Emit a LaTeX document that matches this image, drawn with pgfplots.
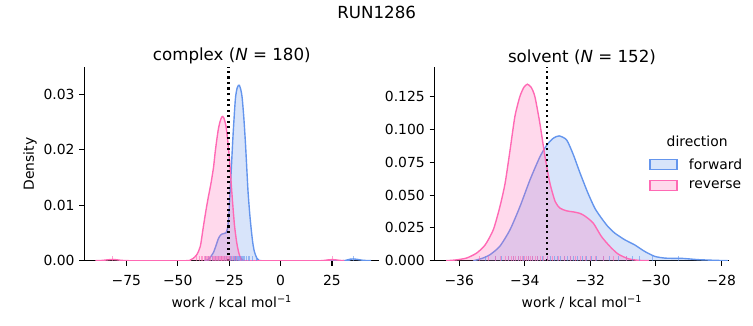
\documentclass[border=0pt]{standalone}
\usepackage{pgfplots}
\usepackage{pgfplotstable}
\pgfplotsset{compat=1.18}
\usepackage{fontspec}
\setmainfont{DejaVu Sans}
\definecolor{fwd}{HTML}{6495ED}
\definecolor{rev}{HTML}{FF69B4}
\pgfdeclareplotmark{rug}{\pgfpathmoveto{\pgfpointorigin}\pgfpathlineto{\pgfqpoint{0pt}{3.5pt}}\pgfusepathqstroke}

\pgfplotstableread{
x y
-90 0
-87.5 0.00003
-85 0.00012
-82.5 0.00022
-81.5 0.00023
-80 0.00018
-77.5 0.00007
-75 0.00001
-72 0
-46 0
-44 0.0001
-42.5 0.0004
-40.7 0.0011
-39 0.0026
-37.5 0.0062
-36.2 0.0092
-35.1 0.0115
-33.8 0.014
-32.6 0.0168
-31.8 0.0195
-31.0 0.0218
-30.2 0.0238
-29.4 0.0251
-28.6 0.0259
-28.1 0.026
-27.5 0.0257
-26.5 0.0242
-25.6 0.0214
-24.8 0.0182
-23.7 0.0124
-22.4 0.0064
-21.1 0.0028
-19.8 0.0008
-18.4 0.0001
-17 0
19 0
21 0.00004
23 0.00014
25.2 0.0002
27.5 0.00012
29.5 0.00003
31 0
}\complexrev

\pgfplotstableread{
x y
-37 0
-35.1 0.0002
-33.8 0.0008
-32.6 0.0015
-31.4 0.0027
-30.2 0.004
-29.2 0.0046
-28.5 0.0048
-27.5 0.0049
-26.6 0.005
-25.8 0.0058
-25.2 0.0078
-24.8 0.0106
-24.1 0.0154
-23.1 0.0226
-22.0 0.029
-21.2 0.031
-20.5 0.0316
-20.0 0.0316
-19.3 0.0308
-18.7 0.0295
-17.9 0.026
-17.1 0.0214
-16.4 0.0165
-15.8 0.0124
-15.0 0.0085
-14.3 0.0058
-13.5 0.0032
-12.7 0.0016
-11.6 0.0005
-10.6 0.0001
-9 0
30 0
32 0.0001
34 0.00028
35.5 0.00032
37.5 0.00022
40 0.00008
42.5 0.00002
44 0
}\complexfwd

\pgfplotstableread{
x y
-36.4 0
-36.1 0.0006
-35.78 0.002
-35.47 0.0058
-35.21 0.012
-34.96 0.0236
-34.76 0.041
-34.6 0.059
-34.45 0.084
-34.3 0.11
-34.15 0.125
-34.03 0.132
-33.92 0.1345
-33.8 0.132
-33.69 0.125
-33.54 0.105
-33.38 0.079
-33.23 0.059
-33.07 0.045
-32.92 0.040
-32.72 0.038
-32.47 0.037
-32.31 0.036
-32.16 0.034
-31.91 0.0287
-31.66 0.0185
-31.4 0.0109
-31.15 0.0051
-30.84 0.0015
-30.54 0.0003
-30.2 0
}\solventrev

\pgfplotstableread{
x y
-35.57 0
-35.3 0.0018
-35.06 0.0046
-34.76 0.011
-34.45 0.0236
-34.15 0.041
-33.84 0.0616
-33.54 0.079
-33.33 0.088
-33.13 0.0933
-32.95 0.0951
-32.72 0.092
-32.52 0.081
-32.31 0.0667
-32.07 0.0515
-31.86 0.040
-31.66 0.0325
-31.46 0.026
-31.25 0.021
-30.95 0.016
-30.64 0.012
-30.34 0.0071
-30.03 0.0033
-29.73 0.002
-29.45 0.0018
-29.22 0.0018
-28.95 0.0013
-28.71 0.0008
-28.2 0.0003
-27.8 0
}\solventfwd

\pgfplotsset{kde/.style={
  scale only axis,
  width=212.4pt, height=139.25pt,
  axis x line*=bottom, axis y line*=left,
  axis line style={-, line width=0.8pt, black},
  tick align=outside, major tick length=3.5pt,
  major tick style={line width=0.8pt, black},
  tick label style={font=\fontsize{10}{12}\selectfont},
  xticklabel style={yshift=-3.5pt},
  label style={font=\fontsize{10}{12}\selectfont},
  title style={font=\fontsize{12}{14.4}\selectfont, at={(0.5,1)}, anchor=south, yshift=-4pt, inner sep=0pt},
  xlabel style={at={(axis description cs:0.5,-0.212)}, anchor=center},
  minor tick num=0, scaled ticks=false, ymin=0,
  xlabel={work / kcal mol\textsuperscript{−1}},
}}

\begin{document}
\begin{tikzpicture}
\useasboundingbox (0,0) rectangle (542.16pt,234pt);
\node[font=\fontsize{12}{14.4}\selectfont] at (271.2pt,224.9pt) {RUN1286};

\begin{axis}[kde, at={(60.7pt,46.3pt)}, anchor=south west,
  xmin=-95.4, xmax=48.0, ymax=0.03487,
  xtick={-75,-50,-25,0,25}, xticklabels={−75,−50,−25,0,25},
  ytick={0,0.01,0.02,0.03}, yticklabels={0.00,0.01,0.02,0.03},
  ylabel={Density},
  ylabel style={at={(axis description cs:-0.184,0.5)}, anchor=center},
  title={complex (\textit{N} = 180)}]
\addplot[draw=none, fill=fwd, fill opacity=0.25, smooth, tension=0.4, forget plot] table {\complexfwd} \closedcycle;
\addplot[fwd, line width=1pt, smooth, tension=0.4, forget plot] table {\complexfwd};
\addplot[draw=none, fill=rev, fill opacity=0.25, smooth, tension=0.4, forget plot] table {\complexrev} \closedcycle;
\addplot[rev, line width=1pt, smooth, tension=0.4, forget plot] table {\complexrev};
\addplot[only marks, mark=rug, mark options={draw=fwd, line width=0.7pt, opacity=0.6}, forget plot] coordinates {
(-36.7,0) (-34.8,0) (-33.2,0) (-31.5,0) (-30.1,0) (-28.8,0) (-27.5,0) (-26.2,0) (-25.0,0) (-24.3,0) (-23.7,0) (-23.1,0) (-22.6,0) (-22.1,0) (-21.7,0) (-21.3,0) (-20.9,0) (-20.5,0) (-20.1,0) (-19.7,0) (-19.3,0) (-18.9,0) (-18.4,0) (-17.9,0) (-17.3,0) (-16.6,0) (-15.8,0) (-14.9,0) (-13.6,0) (-11.5,0) (35.5,0)};
\addplot[only marks, mark=rug, mark options={draw=rev, line width=0.7pt, opacity=0.6}, forget plot] coordinates {
(-81.6,0) (-40.7,0) (-39.5,0) (-38.6,0) (-37.9,0) (-37.2,0) (-36.6,0) (-36.0,0) (-35.5,0) (-35.0,0) (-34.4,0) (-33.9,0) (-33.3,0) (-32.8,0) (-32.2,0) (-31.7,0) (-31.2,0) (-30.6,0) (-30.1,0) (-29.7,0) (-29.3,0) (-28.9,0) (-28.5,0) (-28.1,0) (-27.7,0) (-27.3,0) (-26.9,0) (-26.4,0) (-25.9,0) (-25.4,0) (-24.8,0) (-24.1,0) (-23.3,0) (-22.4,0) (-21.2,0) (-19.7,0) (25.2,0)};
\addplot[black, line width=1.5pt, dash pattern=on 1.5pt off 2.475pt, forget plot] coordinates {(-25.3,0) (-25.3,0.03487)};
\end{axis}

\begin{axis}[kde, at={(312.8pt,46.3pt)}, anchor=south west,
  xmin=-36.757, xmax=-27.75, ymax=0.1474,
  xtick={-36,-34,-32,-30,-28}, xticklabels={−36,−34,−32,−30,−28},
  ytick={0,0.025,0.05,0.075,0.1,0.125}, yticklabels={0.000,0.025,0.050,0.075,0.100,0.125},
  title={solvent (\textit{N} = 152)},
  legend style={draw=none, fill=none, at={(0.728,0.66)}, anchor=north west, font=\fontsize{10}{12}\selectfont, row sep=3pt, column sep=6pt, inner sep=0pt},
  legend cell align=left]
\addplot[draw=none, fill=fwd, fill opacity=0.25, smooth, tension=0.4, forget plot] table {\solventfwd} \closedcycle;
\addplot[fwd, line width=1pt, smooth, tension=0.4, forget plot] table {\solventfwd};
\addplot[draw=none, fill=rev, fill opacity=0.25, smooth, tension=0.4, forget plot] table {\solventrev} \closedcycle;
\addplot[rev, line width=1pt, smooth, tension=0.4, forget plot] table {\solventrev};
\addplot[only marks, mark=rug, mark options={draw=fwd, line width=0.7pt, opacity=0.6}, forget plot] coordinates {
(-35.2,0) (-34.9,0) (-34.7,0) (-34.5,0) (-34.35,0) (-34.2,0) (-34.05,0) (-33.9,0) (-33.75,0) (-33.6,0) (-33.45,0) (-33.3,0) (-33.2,0) (-33.1,0) (-33.0,0) (-32.9,0) (-32.8,0) (-32.7,0) (-32.6,0) (-32.5,0) (-32.4,0) (-32.25,0) (-32.1,0) (-31.95,0) (-31.8,0) (-31.6,0) (-31.4,0) (-31.15,0) (-30.9,0) (-30.7,0) (-30.5,0) (-30.1,0) (-29.3,0)};
\addplot[only marks, mark=rug, mark options={draw=rev, line width=0.7pt, opacity=0.6}, forget plot] coordinates {
(-35.37,0) (-35.1,0) (-34.9,0) (-34.75,0) (-34.6,0) (-34.5,0) (-34.42,0) (-34.35,0) (-34.28,0) (-34.2,0) (-34.13,0) (-34.06,0) (-34.0,0) (-33.94,0) (-33.88,0) (-33.82,0) (-33.75,0) (-33.68,0) (-33.6,0) (-33.52,0) (-33.42,0) (-33.3,0) (-33.15,0) (-32.98,0) (-32.8,0) (-32.6,0) (-32.45,0) (-32.3,0) (-32.15,0) (-32.0,0) (-31.85,0) (-31.6,0) (-31.3,0) (-30.9,0)};
\addplot[black, line width=1.5pt, dash pattern=on 1.5pt off 2.475pt, forget plot] coordinates {(-33.33,0) (-33.33,0.1474)};
\addlegendimage{empty legend}
\addlegendentry{\hspace*{-16pt}direction}
\addlegendimage{legend image code/.code={\draw[draw=fwd, fill=fwd, fill opacity=0.25, line width=1pt] (0pt,-3.6pt) rectangle (19.4pt,3.6pt);}}
\addlegendentry{forward}
\addlegendimage{legend image code/.code={\draw[draw=rev, fill=rev, fill opacity=0.25, line width=1pt] (0pt,-3.6pt) rectangle (19.4pt,3.6pt);}}
\addlegendentry{reverse}
\end{axis}
\end{tikzpicture}
\end{document}
